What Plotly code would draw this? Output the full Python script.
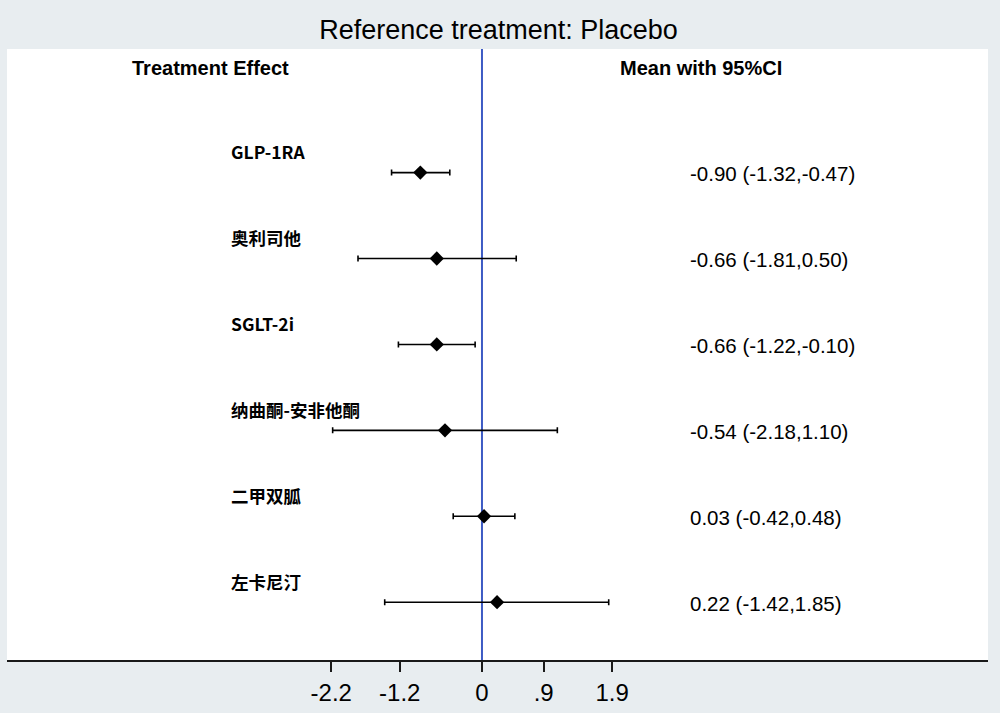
import plotly.graph_objects as go

# ---- data ----
treatments = ["GLP-1RA", "奥利司他", "SGLT-2i", "纳曲酮-安非他酮", "二甲双胍", "左卡尼汀"]
means = [-0.90, -0.66, -0.66, -0.54, 0.03, 0.22]
lowers = [-1.32, -1.81, -1.22, -2.18, -0.42, -1.42]
uppers = [-0.47, 0.50, -0.10, 1.10, 0.48, 1.85]
tick_vals = [-2.2, -1.2, 0, 0.9, 1.9]
tick_text = ["-2.2", "-1.2", "0", ".9", "1.9"]
title_text = "Reference treatment: Placebo"
header_left = "Treatment Effect"
header_right = "Mean with 95%CI"

rows = list(range(1, len(treatments) + 1))
ci_text = [f"{m:.2f} ({l:.2f},{u:.2f})" for m, l, u in zip(means, lowers, uppers)]

fig = go.Figure()

# reference line at 0
fig.add_shape(type="line", xref="x", yref="paper", x0=0, x1=0, y0=0, y1=1,
              line=dict(color="#3d5bc4", width=2), layer="below")

fig.add_trace(go.Scatter(
    x=means, y=rows, mode="markers",
    marker=dict(symbol="diamond", size=11, color="black"),
    error_x=dict(type="data", symmetric=False,
                 array=[u - m for u, m in zip(uppers, means)],
                 arrayminus=[m - l for m, l in zip(means, lowers)],
                 color="black", thickness=1.6, width=3),
    showlegend=False, hoverinfo="skip"))

label_font = dict(family="Noto Sans CJK SC", size=17.5, color="black", weight="bold")
ci_font = dict(family="Liberation Sans, Arial", size=20.5, color="black")
head_font = dict(family="Liberation Sans, Arial", size=20, color="black", weight="bold")

for r, name, txt in zip(rows, treatments, ci_text):
    fig.add_annotation(x=-3.70, y=r, xref="x", yref="y", text=f"<b>{name}</b>",
                       showarrow=False, xanchor="left", yanchor="middle",
                       yshift=21, font=label_font)
    fig.add_annotation(x=3.01, y=r, xref="x", yref="y", text=txt,
                       showarrow=False, xanchor="left", yanchor="middle",
                       yshift=-1, font=ci_font)

fig.add_annotation(x=-3.97, y=-0.218, xref="x", yref="y", text=f"<b>{header_left}</b>",
                   showarrow=False, xanchor="center", yanchor="middle", font=head_font)
fig.add_annotation(x=3.2, y=-0.218, xref="x", yref="y", text=f"<b>{header_right}</b>",
                   showarrow=False, xanchor="center", yanchor="middle", font=head_font)

fig.update_layout(
    width=1000, height=713,
    margin=dict(l=7, r=12, t=49, b=51),
    paper_bgcolor="#e8edf0", plot_bgcolor="white",
    title=dict(text=title_text, x=0.4985, xanchor="center", y=1 - 30 / 713, yanchor="middle",
               font=dict(family="Liberation Sans, Arial", size=27, color="black")),
    xaxis=dict(range=[-6.934, 7.387], tickvals=tick_vals, ticktext=tick_text,
               showgrid=False, zeroline=False, showline=True, linecolor="#1a1a1a",
               linewidth=2.2, ticks="outside", ticklen=10, tickwidth=1.8, tickcolor="#1a1a1a",
               tickfont=dict(family="Liberation Sans, Arial", size=24, color="black")),
    yaxis=dict(range=[6.673, -0.4385], showgrid=False, zeroline=False,
               showticklabels=False, showline=False, ticks=""),
)

fig.write_html("out.html", config={"displayModeBar": False},
               post_script="document.body.style.margin='0';document.body.style.overflow='hidden';")
